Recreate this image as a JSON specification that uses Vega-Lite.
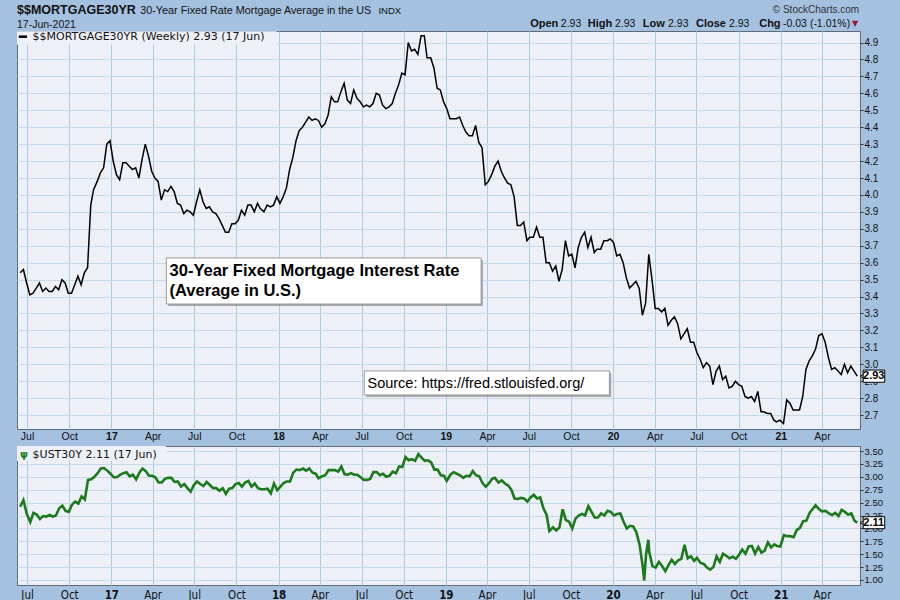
{
  "$schema": "https://vega.github.io/schema/vega-lite/v6.json",
  "background": "#a4c2e0",
  "padding": 0,
  "spacing": 0,
  "config": {
    "view": {"fill": "#eef0f8", "stroke": "#5e6b78", "strokeWidth": 1},
    "axis": {"domain": false, "labelColor": "#111111", "labelFont": "Liberation Sans", "labelOverlap": false, "labelFlush": false}
  },
  "datasets": {
    "mort": [
      {"date":"2016-06-16","rate":3.54},{"date":"2016-06-23","rate":3.56},{"date":"2016-06-30","rate":3.48},{"date":"2016-07-07","rate":3.41},{"date":"2016-07-14","rate":3.42},{"date":"2016-07-21","rate":3.45},{"date":"2016-07-28","rate":3.48},{"date":"2016-08-04","rate":3.43},{"date":"2016-08-11","rate":3.45},{"date":"2016-08-18","rate":3.43},{"date":"2016-08-25","rate":3.43},{"date":"2016-09-01","rate":3.46},{"date":"2016-09-08","rate":3.44},{"date":"2016-09-15","rate":3.50},{"date":"2016-09-22","rate":3.48},{"date":"2016-09-29","rate":3.42},{"date":"2016-10-06","rate":3.42},{"date":"2016-10-13","rate":3.47},{"date":"2016-10-20","rate":3.52},{"date":"2016-10-27","rate":3.47},{"date":"2016-11-03","rate":3.54},{"date":"2016-11-10","rate":3.57},{"date":"2016-11-17","rate":3.94},{"date":"2016-11-23","rate":4.03},{"date":"2016-12-01","rate":4.08},{"date":"2016-12-08","rate":4.13},{"date":"2016-12-15","rate":4.16},{"date":"2016-12-22","rate":4.30},{"date":"2016-12-29","rate":4.32},
      {"date":"2017-01-05","rate":4.20},{"date":"2017-01-12","rate":4.12},{"date":"2017-01-19","rate":4.09},{"date":"2017-01-26","rate":4.19},{"date":"2017-02-02","rate":4.19},{"date":"2017-02-09","rate":4.17},{"date":"2017-02-16","rate":4.15},{"date":"2017-02-23","rate":4.16},{"date":"2017-03-02","rate":4.10},{"date":"2017-03-09","rate":4.21},{"date":"2017-03-16","rate":4.30},{"date":"2017-03-23","rate":4.23},{"date":"2017-03-30","rate":4.14},{"date":"2017-04-06","rate":4.10},{"date":"2017-04-13","rate":4.08},{"date":"2017-04-20","rate":3.97},{"date":"2017-04-27","rate":4.03},{"date":"2017-05-04","rate":4.02},{"date":"2017-05-11","rate":4.05},{"date":"2017-05-18","rate":4.02},{"date":"2017-05-25","rate":3.95},{"date":"2017-06-01","rate":3.94},{"date":"2017-06-08","rate":3.89},{"date":"2017-06-15","rate":3.91},{"date":"2017-06-22","rate":3.90},{"date":"2017-06-29","rate":3.88},{"date":"2017-07-06","rate":3.96},{"date":"2017-07-13","rate":4.03},{"date":"2017-07-20","rate":3.96},{"date":"2017-07-27","rate":3.92},{"date":"2017-08-03","rate":3.93},{"date":"2017-08-10","rate":3.90},{"date":"2017-08-17","rate":3.89},{"date":"2017-08-24","rate":3.86},{"date":"2017-08-31","rate":3.82},{"date":"2017-09-07","rate":3.78},{"date":"2017-09-14","rate":3.78},{"date":"2017-09-21","rate":3.83},{"date":"2017-09-28","rate":3.83},{"date":"2017-10-05","rate":3.85},{"date":"2017-10-12","rate":3.91},{"date":"2017-10-19","rate":3.88},{"date":"2017-10-26","rate":3.94},{"date":"2017-11-02","rate":3.94},{"date":"2017-11-09","rate":3.90},{"date":"2017-11-16","rate":3.95},{"date":"2017-11-22","rate":3.92},{"date":"2017-11-30","rate":3.90},{"date":"2017-12-07","rate":3.94},{"date":"2017-12-14","rate":3.93},{"date":"2017-12-21","rate":3.94},{"date":"2017-12-28","rate":3.99},
      {"date":"2018-01-04","rate":3.95},{"date":"2018-01-11","rate":3.99},{"date":"2018-01-18","rate":4.04},{"date":"2018-01-25","rate":4.15},{"date":"2018-02-01","rate":4.22},{"date":"2018-02-08","rate":4.32},{"date":"2018-02-15","rate":4.38},{"date":"2018-02-22","rate":4.40},{"date":"2018-03-01","rate":4.43},{"date":"2018-03-08","rate":4.46},{"date":"2018-03-15","rate":4.44},{"date":"2018-03-22","rate":4.45},{"date":"2018-03-29","rate":4.44},{"date":"2018-04-05","rate":4.40},{"date":"2018-04-12","rate":4.42},{"date":"2018-04-19","rate":4.47},{"date":"2018-04-26","rate":4.58},{"date":"2018-05-03","rate":4.55},{"date":"2018-05-10","rate":4.55},{"date":"2018-05-17","rate":4.61},{"date":"2018-05-24","rate":4.66},{"date":"2018-05-31","rate":4.56},{"date":"2018-06-07","rate":4.54},{"date":"2018-06-14","rate":4.62},{"date":"2018-06-21","rate":4.57},{"date":"2018-06-28","rate":4.55},{"date":"2018-07-05","rate":4.52},{"date":"2018-07-12","rate":4.53},{"date":"2018-07-19","rate":4.52},{"date":"2018-07-26","rate":4.54},{"date":"2018-08-02","rate":4.60},{"date":"2018-08-09","rate":4.59},{"date":"2018-08-16","rate":4.53},{"date":"2018-08-23","rate":4.51},{"date":"2018-08-30","rate":4.52},{"date":"2018-09-06","rate":4.54},{"date":"2018-09-13","rate":4.60},{"date":"2018-09-20","rate":4.65},{"date":"2018-09-27","rate":4.72},{"date":"2018-10-04","rate":4.71},{"date":"2018-10-11","rate":4.90},{"date":"2018-10-18","rate":4.85},{"date":"2018-10-25","rate":4.86},{"date":"2018-11-01","rate":4.83},{"date":"2018-11-08","rate":4.94},{"date":"2018-11-15","rate":4.94},{"date":"2018-11-21","rate":4.81},{"date":"2018-11-29","rate":4.81},{"date":"2018-12-06","rate":4.75},{"date":"2018-12-13","rate":4.63},{"date":"2018-12-20","rate":4.62},{"date":"2018-12-27","rate":4.55},
      {"date":"2019-01-03","rate":4.51},{"date":"2019-01-10","rate":4.45},{"date":"2019-01-17","rate":4.45},{"date":"2019-01-24","rate":4.45},{"date":"2019-01-31","rate":4.46},{"date":"2019-02-07","rate":4.41},{"date":"2019-02-14","rate":4.37},{"date":"2019-02-21","rate":4.35},{"date":"2019-02-28","rate":4.35},{"date":"2019-03-07","rate":4.41},{"date":"2019-03-14","rate":4.31},{"date":"2019-03-21","rate":4.28},{"date":"2019-03-28","rate":4.06},{"date":"2019-04-04","rate":4.08},{"date":"2019-04-11","rate":4.12},{"date":"2019-04-18","rate":4.17},{"date":"2019-04-25","rate":4.20},{"date":"2019-05-02","rate":4.14},{"date":"2019-05-09","rate":4.10},{"date":"2019-05-16","rate":4.07},{"date":"2019-05-23","rate":4.06},{"date":"2019-05-30","rate":3.99},{"date":"2019-06-06","rate":3.82},{"date":"2019-06-13","rate":3.82},{"date":"2019-06-20","rate":3.84},{"date":"2019-06-27","rate":3.73},{"date":"2019-07-03","rate":3.75},{"date":"2019-07-11","rate":3.75},{"date":"2019-07-18","rate":3.81},{"date":"2019-07-25","rate":3.75},{"date":"2019-08-01","rate":3.75},{"date":"2019-08-08","rate":3.60},{"date":"2019-08-15","rate":3.60},{"date":"2019-08-22","rate":3.55},{"date":"2019-08-29","rate":3.58},{"date":"2019-09-05","rate":3.49},{"date":"2019-09-12","rate":3.56},{"date":"2019-09-19","rate":3.73},{"date":"2019-09-26","rate":3.64},{"date":"2019-10-03","rate":3.65},{"date":"2019-10-10","rate":3.57},{"date":"2019-10-17","rate":3.69},{"date":"2019-10-24","rate":3.75},{"date":"2019-10-31","rate":3.78},{"date":"2019-11-07","rate":3.69},{"date":"2019-11-14","rate":3.75},{"date":"2019-11-21","rate":3.66},{"date":"2019-11-27","rate":3.68},{"date":"2019-12-05","rate":3.68},{"date":"2019-12-12","rate":3.73},{"date":"2019-12-19","rate":3.73},{"date":"2019-12-26","rate":3.74},
      {"date":"2020-01-02","rate":3.72},{"date":"2020-01-09","rate":3.64},{"date":"2020-01-16","rate":3.65},{"date":"2020-01-23","rate":3.60},{"date":"2020-01-30","rate":3.51},{"date":"2020-02-06","rate":3.45},{"date":"2020-02-13","rate":3.47},{"date":"2020-02-20","rate":3.49},{"date":"2020-02-27","rate":3.45},{"date":"2020-03-05","rate":3.29},{"date":"2020-03-12","rate":3.36},{"date":"2020-03-19","rate":3.65},{"date":"2020-03-26","rate":3.50},{"date":"2020-04-02","rate":3.33},{"date":"2020-04-09","rate":3.33},{"date":"2020-04-16","rate":3.31},{"date":"2020-04-23","rate":3.33},{"date":"2020-04-30","rate":3.23},{"date":"2020-05-07","rate":3.26},{"date":"2020-05-14","rate":3.28},{"date":"2020-05-21","rate":3.24},{"date":"2020-05-28","rate":3.15},{"date":"2020-06-04","rate":3.18},{"date":"2020-06-11","rate":3.21},{"date":"2020-06-18","rate":3.13},{"date":"2020-06-25","rate":3.13},{"date":"2020-07-02","rate":3.07},{"date":"2020-07-09","rate":3.03},{"date":"2020-07-16","rate":2.98},{"date":"2020-07-23","rate":3.01},{"date":"2020-07-30","rate":2.99},{"date":"2020-08-06","rate":2.88},{"date":"2020-08-13","rate":2.96},{"date":"2020-08-20","rate":2.99},{"date":"2020-08-27","rate":2.91},{"date":"2020-09-03","rate":2.93},{"date":"2020-09-10","rate":2.86},{"date":"2020-09-17","rate":2.87},{"date":"2020-09-24","rate":2.90},{"date":"2020-10-01","rate":2.88},{"date":"2020-10-08","rate":2.87},{"date":"2020-10-15","rate":2.81},{"date":"2020-10-22","rate":2.80},{"date":"2020-10-29","rate":2.81},{"date":"2020-11-05","rate":2.78},{"date":"2020-11-12","rate":2.84},{"date":"2020-11-19","rate":2.72},{"date":"2020-11-25","rate":2.72},{"date":"2020-12-03","rate":2.71},{"date":"2020-12-10","rate":2.71},{"date":"2020-12-17","rate":2.67},{"date":"2020-12-23","rate":2.66},{"date":"2020-12-30","rate":2.67},
      {"date":"2021-01-07","rate":2.65},{"date":"2021-01-14","rate":2.79},{"date":"2021-01-21","rate":2.77},{"date":"2021-01-28","rate":2.73},{"date":"2021-02-04","rate":2.73},{"date":"2021-02-11","rate":2.73},{"date":"2021-02-18","rate":2.81},{"date":"2021-02-25","rate":2.97},{"date":"2021-03-04","rate":3.02},{"date":"2021-03-11","rate":3.05},{"date":"2021-03-18","rate":3.09},{"date":"2021-03-25","rate":3.17},{"date":"2021-04-01","rate":3.18},{"date":"2021-04-08","rate":3.13},{"date":"2021-04-15","rate":3.04},{"date":"2021-04-22","rate":2.97},{"date":"2021-04-29","rate":2.98},{"date":"2021-05-06","rate":2.96},{"date":"2021-05-13","rate":2.94},{"date":"2021-05-20","rate":3.00},{"date":"2021-05-27","rate":2.95},{"date":"2021-06-03","rate":2.99},{"date":"2021-06-10","rate":2.96},{"date":"2021-06-17","rate":2.93}
    ],
    "ust": [
      {"date":"2016-06-16","yld":2.42},{"date":"2016-06-23","yld":2.55},{"date":"2016-06-30","yld":2.29},{"date":"2016-07-08","yld":2.12},{"date":"2016-07-15","yld":2.30},{"date":"2016-07-22","yld":2.27},{"date":"2016-07-29","yld":2.18},{"date":"2016-08-05","yld":2.24},{"date":"2016-08-12","yld":2.23},{"date":"2016-08-19","yld":2.26},{"date":"2016-08-26","yld":2.23},{"date":"2016-09-02","yld":2.25},{"date":"2016-09-09","yld":2.39},{"date":"2016-09-16","yld":2.44},{"date":"2016-09-23","yld":2.34},{"date":"2016-09-30","yld":2.32},{"date":"2016-10-07","yld":2.46},{"date":"2016-10-14","yld":2.52},{"date":"2016-10-21","yld":2.48},{"date":"2016-10-28","yld":2.62},{"date":"2016-11-04","yld":2.56},{"date":"2016-11-11","yld":2.94},{"date":"2016-11-18","yld":2.95},{"date":"2016-11-25","yld":3.00},{"date":"2016-12-02","yld":3.07},{"date":"2016-12-09","yld":3.16},{"date":"2016-12-16","yld":3.17},{"date":"2016-12-23","yld":3.12},{"date":"2016-12-30","yld":3.06},
      {"date":"2017-01-06","yld":2.99},{"date":"2017-01-13","yld":2.99},{"date":"2017-01-20","yld":3.04},{"date":"2017-01-27","yld":3.07},{"date":"2017-02-03","yld":3.09},{"date":"2017-02-10","yld":3.01},{"date":"2017-02-17","yld":3.04},{"date":"2017-02-24","yld":2.95},{"date":"2017-03-03","yld":3.08},{"date":"2017-03-10","yld":3.16},{"date":"2017-03-17","yld":3.11},{"date":"2017-03-24","yld":3.02},{"date":"2017-03-31","yld":3.02},{"date":"2017-04-07","yld":2.99},{"date":"2017-04-14","yld":2.89},{"date":"2017-04-21","yld":2.89},{"date":"2017-04-28","yld":2.96},{"date":"2017-05-05","yld":2.98},{"date":"2017-05-12","yld":2.98},{"date":"2017-05-19","yld":2.90},{"date":"2017-05-26","yld":2.91},{"date":"2017-06-02","yld":2.81},{"date":"2017-06-09","yld":2.86},{"date":"2017-06-16","yld":2.78},{"date":"2017-06-23","yld":2.71},{"date":"2017-06-30","yld":2.84},{"date":"2017-07-07","yld":2.91},{"date":"2017-07-14","yld":2.86},{"date":"2017-07-21","yld":2.82},{"date":"2017-07-28","yld":2.90},{"date":"2017-08-04","yld":2.84},{"date":"2017-08-11","yld":2.78},{"date":"2017-08-18","yld":2.78},{"date":"2017-08-25","yld":2.73},{"date":"2017-09-01","yld":2.78},{"date":"2017-09-08","yld":2.67},{"date":"2017-09-15","yld":2.77},{"date":"2017-09-22","yld":2.78},{"date":"2017-09-29","yld":2.86},{"date":"2017-10-06","yld":2.88},{"date":"2017-10-13","yld":2.81},{"date":"2017-10-20","yld":2.89},{"date":"2017-10-27","yld":2.92},{"date":"2017-11-03","yld":2.81},{"date":"2017-11-10","yld":2.87},{"date":"2017-11-17","yld":2.78},{"date":"2017-11-24","yld":2.76},{"date":"2017-12-01","yld":2.76},{"date":"2017-12-08","yld":2.77},{"date":"2017-12-15","yld":2.68},{"date":"2017-12-22","yld":2.87},{"date":"2017-12-29","yld":2.74},
      {"date":"2018-01-05","yld":2.81},{"date":"2018-01-12","yld":2.88},{"date":"2018-01-19","yld":2.91},{"date":"2018-01-26","yld":2.91},{"date":"2018-02-02","yld":3.08},{"date":"2018-02-09","yld":3.14},{"date":"2018-02-16","yld":3.13},{"date":"2018-02-23","yld":3.16},{"date":"2018-03-02","yld":3.12},{"date":"2018-03-09","yld":3.16},{"date":"2018-03-16","yld":3.08},{"date":"2018-03-23","yld":3.06},{"date":"2018-03-29","yld":2.97},{"date":"2018-04-06","yld":3.01},{"date":"2018-04-13","yld":3.03},{"date":"2018-04-20","yld":3.13},{"date":"2018-04-27","yld":3.13},{"date":"2018-05-04","yld":3.13},{"date":"2018-05-11","yld":3.10},{"date":"2018-05-18","yld":3.20},{"date":"2018-05-25","yld":3.05},{"date":"2018-06-01","yld":3.04},{"date":"2018-06-08","yld":3.07},{"date":"2018-06-15","yld":3.04},{"date":"2018-06-22","yld":3.04},{"date":"2018-06-29","yld":2.99},{"date":"2018-07-06","yld":2.94},{"date":"2018-07-13","yld":2.94},{"date":"2018-07-20","yld":2.96},{"date":"2018-07-27","yld":3.09},{"date":"2018-08-03","yld":3.09},{"date":"2018-08-10","yld":3.03},{"date":"2018-08-17","yld":3.06},{"date":"2018-08-24","yld":3.00},{"date":"2018-08-31","yld":3.02},{"date":"2018-09-07","yld":3.10},{"date":"2018-09-14","yld":3.07},{"date":"2018-09-21","yld":3.20},{"date":"2018-09-28","yld":3.19},{"date":"2018-10-05","yld":3.38},{"date":"2018-10-12","yld":3.32},{"date":"2018-10-19","yld":3.34},{"date":"2018-10-26","yld":3.31},{"date":"2018-11-02","yld":3.44},{"date":"2018-11-09","yld":3.37},{"date":"2018-11-16","yld":3.31},{"date":"2018-11-23","yld":3.32},{"date":"2018-11-30","yld":3.28},{"date":"2018-12-07","yld":3.14},{"date":"2018-12-14","yld":3.14},{"date":"2018-12-21","yld":3.03},{"date":"2018-12-28","yld":3.02},
      {"date":"2019-01-03","yld":2.92},{"date":"2019-01-11","yld":3.04},{"date":"2019-01-18","yld":3.09},{"date":"2019-01-25","yld":3.06},{"date":"2019-02-01","yld":3.03},{"date":"2019-02-08","yld":2.98},{"date":"2019-02-15","yld":3.02},{"date":"2019-02-22","yld":3.01},{"date":"2019-03-01","yld":3.11},{"date":"2019-03-08","yld":3.03},{"date":"2019-03-15","yld":3.01},{"date":"2019-03-22","yld":2.88},{"date":"2019-03-29","yld":2.81},{"date":"2019-04-05","yld":2.87},{"date":"2019-04-12","yld":2.96},{"date":"2019-04-18","yld":2.98},{"date":"2019-04-26","yld":2.89},{"date":"2019-05-03","yld":2.93},{"date":"2019-05-10","yld":2.87},{"date":"2019-05-17","yld":2.83},{"date":"2019-05-24","yld":2.75},{"date":"2019-05-31","yld":2.58},{"date":"2019-06-07","yld":2.57},{"date":"2019-06-14","yld":2.59},{"date":"2019-06-21","yld":2.58},{"date":"2019-06-28","yld":2.52},{"date":"2019-07-05","yld":2.60},{"date":"2019-07-12","yld":2.65},{"date":"2019-07-19","yld":2.58},{"date":"2019-07-26","yld":2.60},{"date":"2019-08-02","yld":2.39},{"date":"2019-08-09","yld":2.26},{"date":"2019-08-15","yld":1.95},{"date":"2019-08-23","yld":2.02},{"date":"2019-08-30","yld":1.96},{"date":"2019-09-06","yld":2.02},{"date":"2019-09-13","yld":2.37},{"date":"2019-09-20","yld":2.16},{"date":"2019-09-27","yld":2.13},{"date":"2019-10-04","yld":2.00},{"date":"2019-10-11","yld":2.19},{"date":"2019-10-18","yld":2.25},{"date":"2019-10-25","yld":2.28},{"date":"2019-11-01","yld":2.25},{"date":"2019-11-08","yld":2.43},{"date":"2019-11-15","yld":2.32},{"date":"2019-11-22","yld":2.21},{"date":"2019-11-29","yld":2.21},{"date":"2019-12-06","yld":2.29},{"date":"2019-12-13","yld":2.25},{"date":"2019-12-20","yld":2.34},{"date":"2019-12-27","yld":2.32},
      {"date":"2020-01-03","yld":2.25},{"date":"2020-01-10","yld":2.28},{"date":"2020-01-17","yld":2.29},{"date":"2020-01-24","yld":2.13},{"date":"2020-01-31","yld":2.00},{"date":"2020-02-07","yld":2.05},{"date":"2020-02-14","yld":2.04},{"date":"2020-02-21","yld":1.92},{"date":"2020-02-28","yld":1.68},{"date":"2020-03-06","yld":1.25},{"date":"2020-03-09","yld":0.99},{"date":"2020-03-13","yld":1.49},{"date":"2020-03-18","yld":1.78},{"date":"2020-03-20","yld":1.54},{"date":"2020-03-27","yld":1.27},{"date":"2020-04-03","yld":1.24},{"date":"2020-04-10","yld":1.35},{"date":"2020-04-17","yld":1.27},{"date":"2020-04-24","yld":1.17},{"date":"2020-05-01","yld":1.29},{"date":"2020-05-08","yld":1.39},{"date":"2020-05-15","yld":1.31},{"date":"2020-05-22","yld":1.38},{"date":"2020-05-29","yld":1.41},{"date":"2020-06-05","yld":1.68},{"date":"2020-06-12","yld":1.42},{"date":"2020-06-19","yld":1.46},{"date":"2020-06-26","yld":1.37},{"date":"2020-07-02","yld":1.43},{"date":"2020-07-10","yld":1.33},{"date":"2020-07-17","yld":1.31},{"date":"2020-07-24","yld":1.24},{"date":"2020-07-31","yld":1.20},{"date":"2020-08-07","yld":1.25},{"date":"2020-08-14","yld":1.46},{"date":"2020-08-21","yld":1.35},{"date":"2020-08-28","yld":1.51},{"date":"2020-09-04","yld":1.47},{"date":"2020-09-11","yld":1.42},{"date":"2020-09-18","yld":1.45},{"date":"2020-09-25","yld":1.41},{"date":"2020-10-02","yld":1.49},{"date":"2020-10-09","yld":1.59},{"date":"2020-10-16","yld":1.51},{"date":"2020-10-23","yld":1.65},{"date":"2020-10-30","yld":1.66},{"date":"2020-11-06","yld":1.51},{"date":"2020-11-13","yld":1.64},{"date":"2020-11-20","yld":1.53},{"date":"2020-11-27","yld":1.57},{"date":"2020-12-04","yld":1.73},{"date":"2020-12-11","yld":1.63},{"date":"2020-12-18","yld":1.69},{"date":"2020-12-24","yld":1.66},{"date":"2020-12-31","yld":1.65},
      {"date":"2021-01-08","yld":1.87},{"date":"2021-01-15","yld":1.85},{"date":"2021-01-22","yld":1.85},{"date":"2021-01-29","yld":1.83},{"date":"2021-02-05","yld":1.97},{"date":"2021-02-12","yld":2.01},{"date":"2021-02-19","yld":2.14},{"date":"2021-02-26","yld":2.15},{"date":"2021-03-05","yld":2.30},{"date":"2021-03-12","yld":2.38},{"date":"2021-03-18","yld":2.45},{"date":"2021-03-26","yld":2.37},{"date":"2021-04-01","yld":2.33},{"date":"2021-04-09","yld":2.34},{"date":"2021-04-16","yld":2.29},{"date":"2021-04-23","yld":2.26},{"date":"2021-04-30","yld":2.30},{"date":"2021-05-07","yld":2.24},{"date":"2021-05-14","yld":2.36},{"date":"2021-05-21","yld":2.32},{"date":"2021-05-28","yld":2.27},{"date":"2021-06-04","yld":2.29},{"date":"2021-06-11","yld":2.15},{"date":"2021-06-17","yld":2.11}
    ]
  },
  "vconcat": [
    {
      "width": 843,
      "height": 398,
      "data": {"values": [{}]},
      "layer": [
        {"mark": {"type": "rect", "opacity": 0},
         "encoding": {"x": {"datum": {"year": 2016, "month": 5, "date": 5, "hours": 12, "utc": true}, "type": "temporal"}, "x2": {"datum": {"year": 2021, "month": 9, "date": 20, "utc": true}}, "y": {"datum": 5.1451}, "y2": {"datum": 2.5306}}},
        {"mark": {"type": "rect", "color": "#eef0f8"},
         "encoding": {"x": {"datum": {"year": 2016, "month": 6, "date": 9, "utc": true}, "type": "temporal"}, "x2": {"datum": {"year": 2017, "month": 12, "date": 28, "utc": true}}, "y": {"datum": 4.967}, "y2": {"datum": 4.8872}}},
        {"mark": {"type": "rect", "color": "#8a8a8a", "opacity": 0.7},
         "encoding": {"x": {"datum": {"year": 2017, "month": 5, "date": 5, "utc": true}, "type": "temporal"}, "x2": {"datum": {"year": 2019, "month": 3, "date": 23, "utc": true}}, "y": {"datum": 3.6162}, "y2": {"datum": 3.3442}}},
        {"mark": {"type": "rect", "fill": "#ffffff", "stroke": "#9a9a9a", "strokeWidth": 1},
         "encoding": {"x": {"datum": {"year": 2017, "month": 5, "date": 1, "utc": true}, "type": "temporal"}, "x2": {"datum": {"year": 2019, "month": 3, "date": 19, "utc": true}}, "y": {"datum": 3.628}, "y2": {"datum": 3.356}}},
        {"mark": {"type": "rect", "color": "#8a8a8a", "opacity": 0.7},
         "encoding": {"x": {"datum": {"year": 2018, "month": 7, "date": 11, "utc": true}, "type": "temporal"}, "x2": {"datum": {"year": 2019, "month": 12, "date": 28, "utc": true}}, "y": {"datum": 2.9493}, "y2": {"datum": 2.8074}}},
        {"mark": {"type": "rect", "fill": "#ffffff", "stroke": "#9a9a9a", "strokeWidth": 1},
         "encoding": {"x": {"datum": {"year": 2018, "month": 7, "date": 7, "utc": true}, "type": "temporal"}, "x2": {"datum": {"year": 2019, "month": 12, "date": 24, "utc": true}}, "y": {"datum": 2.9611}, "y2": {"datum": 2.8192}}},
        {"data": {"name": "mort"},
         "mark": {"type": "line", "color": "#000000", "strokeWidth": 1.5},
         "encoding": {
           "x": {"field": "date", "type": "temporal",
                 "scale": {"type": "utc", "domain": [{"year": 2016, "month": 6, "date": 9, "utc": true}, {"year": 2021, "month": 6, "date": 23, "utc": true}]},
                 "axis": {"title": null, "grid": true, "ticks": false, "labelPadding": 2, "labelFontSize": 10.5, "labelOverlap": false, "labelFlush": false,
                          "minExtent": 0, "maxExtent": 12,
                          "tickCount": {"interval": "month", "step": 3},
                          "labelExpr": "utcmonth(datum.value) == 0 ? utcFormat(datum.value, '%y') : utcFormat(datum.value, '%b')",
                          "labelFontWeight": {"condition": {"test": "utcmonth(datum.value) == 0", "value": "bold"}, "value": "normal"},
                          "gridColor": "#a9cce3", "gridOpacity": 1}},
           "y": {"field": "rate", "type": "quantitative",
                 "scale": {"domain": [2.618, 4.968], "nice": false, "zero": false},
                 "axis": {"title": null, "grid": true, "orient": "right", "labelOverlap": false, "labelFlush": false, "tickCount": 40,
                          "values": [2.7,2.8,2.9,3.0,3.1,3.2,3.3,3.4,3.5,3.6,3.7,3.8,3.9,4.0,4.1,4.2,4.3,4.4,4.5,4.6,4.7,4.8,4.9],
                          "format": ".1f", "tickSize": 3, "tickColor": "#333333", "labelPadding": 1, "labelFontSize": 10,
                          "gridColor": "#c6d9ea", "gridOpacity": 1}}
         }},
        {"mark": {"type": "text", "text": "30-Year Fixed Mortgage Interest Rate", "font": "Liberation Sans", "fontSize": 16.5, "fontWeight": "bold", "align": "left", "baseline": "alphabetic", "color": "#000000"},
         "encoding": {"x": {"datum": {"year": 2017, "month": 5, "date": 8, "utc": true}, "type": "temporal"}, "y": {"datum": 3.5186}}},
        {"mark": {"type": "text", "text": "(Average in U.S.)", "font": "Liberation Sans", "fontSize": 16.5, "fontWeight": "bold", "align": "left", "baseline": "alphabetic", "color": "#000000"},
         "encoding": {"x": {"datum": {"year": 2017, "month": 5, "date": 8, "utc": true}, "type": "temporal"}, "y": {"datum": 3.4004}}},
        {"mark": {"type": "text", "text": "Source: https://fred.stlouisfed.org/", "font": "Liberation Sans", "fontSize": 14.5, "align": "left", "baseline": "alphabetic", "color": "#000000"},
         "encoding": {"x": {"datum": {"year": 2018, "month": 7, "date": 14, "utc": true}, "type": "temporal"}, "y": {"datum": 2.8582}}},
        {"mark": {"type": "text", "text": "$$MORTGAGE30YR", "font": "Liberation Sans", "fontSize": 12.5, "fontWeight": "bold", "align": "left", "baseline": "alphabetic", "color": "#111111"},
         "encoding": {"x": {"datum": {"year": 2016, "month": 6, "date": 9, "utc": true}, "type": "temporal"}, "y": {"datum": 5.0693}}},
        {"mark": {"type": "text", "text": "30-Year Fixed Rate Mortgage Average in the US", "font": "Liberation Sans", "fontSize": 10.8, "align": "left", "baseline": "alphabetic", "color": "#111111"},
         "encoding": {"x": {"datum": {"year": 2017, "month": 3, "date": 5, "utc": true}, "type": "temporal"}, "y": {"datum": 5.0693}}},
        {"mark": {"type": "text", "text": "INDX", "font": "Liberation Sans", "fontSize": 9.5, "align": "left", "baseline": "alphabetic", "color": "#111111"},
         "encoding": {"x": {"datum": {"year": 2018, "month": 8, "date": 7, "utc": true}, "type": "temporal"}, "y": {"datum": 5.0693}}},
        {"mark": {"type": "text", "text": "17-Jun-2021", "font": "Liberation Sans", "fontSize": 10.5, "align": "left", "baseline": "alphabetic", "color": "#111111"},
         "encoding": {"x": {"datum": {"year": 2016, "month": 6, "date": 9, "utc": true}, "type": "temporal"}, "y": {"datum": 4.9877}}},
        {"mark": {"type": "text", "text": "© StockCharts.com", "font": "Liberation Sans", "fontSize": 10, "align": "right", "baseline": "alphabetic", "color": "#333333"},
         "encoding": {"x": {"datum": {"year": 2021, "month": 6, "date": 21, "utc": true}, "type": "temporal"}, "y": {"datum": 5.0764}}},
        {"mark": {"type": "text", "text": "Open", "font": "Liberation Sans", "fontSize": 11, "fontWeight": "bold", "align": "left", "baseline": "alphabetic", "color": "#111111"},
         "encoding": {"x": {"datum": {"year": 2019, "month": 7, "date": 4, "utc": true}, "type": "temporal"}, "y": {"datum": 4.9889}}},
        {"mark": {"type": "text", "text": "2.93", "font": "Liberation Sans", "fontSize": 10.5, "align": "left", "baseline": "alphabetic", "color": "#111111"},
         "encoding": {"x": {"datum": {"year": 2019, "month": 9, "date": 9, "utc": true}, "type": "temporal"}, "y": {"datum": 4.9889}}},
        {"mark": {"type": "text", "text": "High", "font": "Liberation Sans", "fontSize": 11, "fontWeight": "bold", "align": "left", "baseline": "alphabetic", "color": "#111111"},
         "encoding": {"x": {"datum": {"year": 2019, "month": 11, "date": 7, "utc": true}, "type": "temporal"}, "y": {"datum": 4.9889}}},
        {"mark": {"type": "text", "text": "2.93", "font": "Liberation Sans", "fontSize": 10.5, "align": "left", "baseline": "alphabetic", "color": "#111111"},
         "encoding": {"x": {"datum": {"year": 2020, "month": 1, "date": 5, "utc": true}, "type": "temporal"}, "y": {"datum": 4.9889}}},
        {"mark": {"type": "text", "text": "Low", "font": "Liberation Sans", "fontSize": 11, "fontWeight": "bold", "align": "left", "baseline": "alphabetic", "color": "#111111"},
         "encoding": {"x": {"datum": {"year": 2020, "month": 3, "date": 6, "utc": true}, "type": "temporal"}, "y": {"datum": 4.9889}}},
        {"mark": {"type": "text", "text": "2.93", "font": "Liberation Sans", "fontSize": 10.5, "align": "left", "baseline": "alphabetic", "color": "#111111"},
         "encoding": {"x": {"datum": {"year": 2020, "month": 4, "date": 30, "utc": true}, "type": "temporal"}, "y": {"datum": 4.9889}}},
        {"mark": {"type": "text", "text": "Close", "font": "Liberation Sans", "fontSize": 11, "fontWeight": "bold", "align": "left", "baseline": "alphabetic", "color": "#111111"},
         "encoding": {"x": {"datum": {"year": 2020, "month": 6, "date": 30, "utc": true}, "type": "temporal"}, "y": {"datum": 4.9889}}},
        {"mark": {"type": "text", "text": "2.93", "font": "Liberation Sans", "fontSize": 10.5, "align": "left", "baseline": "alphabetic", "color": "#111111"},
         "encoding": {"x": {"datum": {"year": 2020, "month": 9, "date": 10, "utc": true}, "type": "temporal"}, "y": {"datum": 4.9889}}},
        {"mark": {"type": "text", "text": "Chg", "font": "Liberation Sans", "fontSize": 11, "fontWeight": "bold", "align": "left", "baseline": "alphabetic", "color": "#111111"},
         "encoding": {"x": {"datum": {"year": 2020, "month": 11, "date": 15, "utc": true}, "type": "temporal"}, "y": {"datum": 4.9889}}},
        {"mark": {"type": "text", "text": "-0.03 (-1.01%)", "font": "Liberation Sans", "fontSize": 10.5, "align": "left", "baseline": "alphabetic", "color": "#111111"},
         "encoding": {"x": {"datum": {"year": 2021, "month": 1, "date": 6, "utc": true}, "type": "temporal"}, "y": {"datum": 4.9889}}},
        {"mark": {"type": "text", "text": "▼", "font": "DejaVu Sans", "fontSize": 8, "align": "center", "baseline": "alphabetic", "color": "#a3103c"},
         "encoding": {"x": {"datum": {"year": 2021, "month": 6, "date": 12, "utc": true}, "type": "temporal"}, "y": {"datum": 4.9950}}},
        {"mark": {"type": "rule", "color": "#000000", "strokeWidth": 2.5},
         "encoding": {"x": {"datum": {"year": 2016, "month": 6, "date": 13, "utc": true}, "type": "temporal"}, "x2": {"datum": {"year": 2016, "month": 7, "date": 1, "utc": true}}, "y": {"datum": 4.9345}}},
        {"mark": {"type": "text", "text": "$$MORTGAGE30YR (Weekly) 2.93 (17 Jun)", "font": "DejaVu Sans", "fontSize": 11, "align": "left", "baseline": "alphabetic", "color": "#111111"},
         "encoding": {"x": {"datum": {"year": 2016, "month": 7, "date": 13, "utc": true}, "type": "temporal"}, "y": {"datum": 4.9138}}},
        {"mark": {"type": "point", "shape": "triangle-left", "size": 45, "filled": true, "fill": "#ffffff", "stroke": "#000000", "strokeWidth": 1, "opacity": 1},
         "encoding": {"x": {"datum": {"year": 2021, "month": 6, "date": 30, "utc": true}, "type": "temporal"}, "y": {"datum": 2.93}}},
        {"mark": {"type": "rect", "fill": "#ffffff", "stroke": "#000000", "strokeWidth": 1},
         "encoding": {"x": {"datum": {"year": 2021, "month": 6, "date": 30, "utc": true}, "type": "temporal"}, "x2": {"datum": {"year": 2021, "month": 8, "date": 16, "utc": true}}, "y": {"datum": 2.966}, "y2": {"datum": 2.894}}},
        {"mark": {"type": "text", "text": "2.93", "font": "Liberation Sans", "fontSize": 11, "fontWeight": "bold", "align": "center", "baseline": "middle", "color": "#000000"},
         "encoding": {"x": {"datum": {"year": 2021, "month": 7, "date": 23, "utc": true}, "type": "temporal"}, "y": {"datum": 2.93}}}
      ]
    },
    {
      "width": 843,
      "height": 139,
      "data": {"values": [{}]},
      "layer": [
        {"mark": {"type": "rect", "opacity": 0},
         "encoding": {"x": {"datum": {"year": 2016, "month": 5, "date": 5, "hours": 12, "utc": true}, "type": "temporal"}, "x2": {"datum": {"year": 2021, "month": 9, "date": 20, "utc": true}}, "y": {"datum": 3.597}, "y2": {"datum": 0.5543}}},
        {"mark": {"type": "rect", "color": "#eef0f8"},
         "encoding": {"x": {"datum": {"year": 2016, "month": 6, "date": 9, "utc": true}, "type": "temporal"}, "x2": {"datum": {"year": 2017, "month": 4, "date": 30, "utc": true}}, "y": {"datum": 3.597}, "y2": {"datum": 3.306}}},
        {"data": {"name": "ust"},
         "mark": {"type": "line", "color": "#1c7a1c", "strokeWidth": 2.6},
         "encoding": {
           "x": {"field": "date", "type": "temporal",
                 "scale": {"type": "utc", "domain": [{"year": 2016, "month": 6, "date": 9, "utc": true}, {"year": 2021, "month": 6, "date": 23, "utc": true}]},
                 "axis": {"title": null, "grid": true, "ticks": false, "labelPadding": 4, "labelFontSize": 11.5, "labelOverlap": false, "labelFlush": false,
                          "minExtent": 0, "maxExtent": 16,
                          "labelFont": "Liberation Sans Narrow, DejaVu Sans Condensed, sans-serif",
                          "tickCount": {"interval": "month", "step": 3},
                          "labelExpr": "utcmonth(datum.value) == 0 ? utcFormat(datum.value, '%y') : utcFormat(datum.value, '%b')",
                          "labelFontWeight": {"condition": {"test": "utcmonth(datum.value) == 0", "value": "bold"}, "value": "normal"},
                          "gridColor": "#a9cce3", "gridOpacity": 1}},
           "y": {"field": "yld", "type": "quantitative",
                 "scale": {"domain": [0.903, 3.597], "nice": false, "zero": false},
                 "axis": {"title": null, "grid": true, "orient": "right", "labelOverlap": false, "labelFlush": false, "tickCount": 40,
                          "values": [1.0,1.25,1.5,1.75,2.0,2.25,2.5,2.75,3.0,3.25,3.5],
                          "format": ".2f", "tickSize": 3, "tickColor": "#333333", "labelPadding": 1, "labelFontSize": 9.5,
                          "gridColor": "#c6d9ea", "gridOpacity": 1}}
         }},
        {"mark": {"type": "text", "text": "ψ", "font": "DejaVu Sans", "fontSize": 10, "fontWeight": "bold", "align": "center", "baseline": "alphabetic", "color": "#1c7a1c"},
         "encoding": {"x": {"datum": {"year": 2016, "month": 6, "date": 24, "utc": true}, "type": "temporal"}, "y": {"datum": 3.374}}},
        {"mark": {"type": "text", "text": "$UST30Y 2.11 (17 Jun)", "font": "DejaVu Sans", "fontSize": 11, "align": "left", "baseline": "alphabetic", "color": "#111111"},
         "encoding": {"x": {"datum": {"year": 2016, "month": 7, "date": 13, "utc": true}, "type": "temporal"}, "y": {"datum": 3.374}}},
        {"mark": {"type": "point", "shape": "triangle-left", "size": 45, "filled": true, "fill": "#ffffff", "stroke": "#000000", "strokeWidth": 1, "opacity": 1},
         "encoding": {"x": {"datum": {"year": 2021, "month": 6, "date": 30, "utc": true}, "type": "temporal"}, "y": {"datum": 2.11}}},
        {"mark": {"type": "rect", "fill": "#ffffff", "stroke": "#000000", "strokeWidth": 1},
         "encoding": {"x": {"datum": {"year": 2021, "month": 6, "date": 30, "utc": true}, "type": "temporal"}, "x2": {"datum": {"year": 2021, "month": 8, "date": 16, "utc": true}}, "y": {"datum": 2.2263}, "y2": {"datum": 1.9937}}},
        {"mark": {"type": "text", "text": "2.11", "font": "Liberation Sans", "fontSize": 11, "fontWeight": "bold", "align": "center", "baseline": "middle", "color": "#000000"},
         "encoding": {"x": {"datum": {"year": 2021, "month": 7, "date": 23, "utc": true}, "type": "temporal"}, "y": {"datum": 2.11}}}
      ]
    }
  ]
}
